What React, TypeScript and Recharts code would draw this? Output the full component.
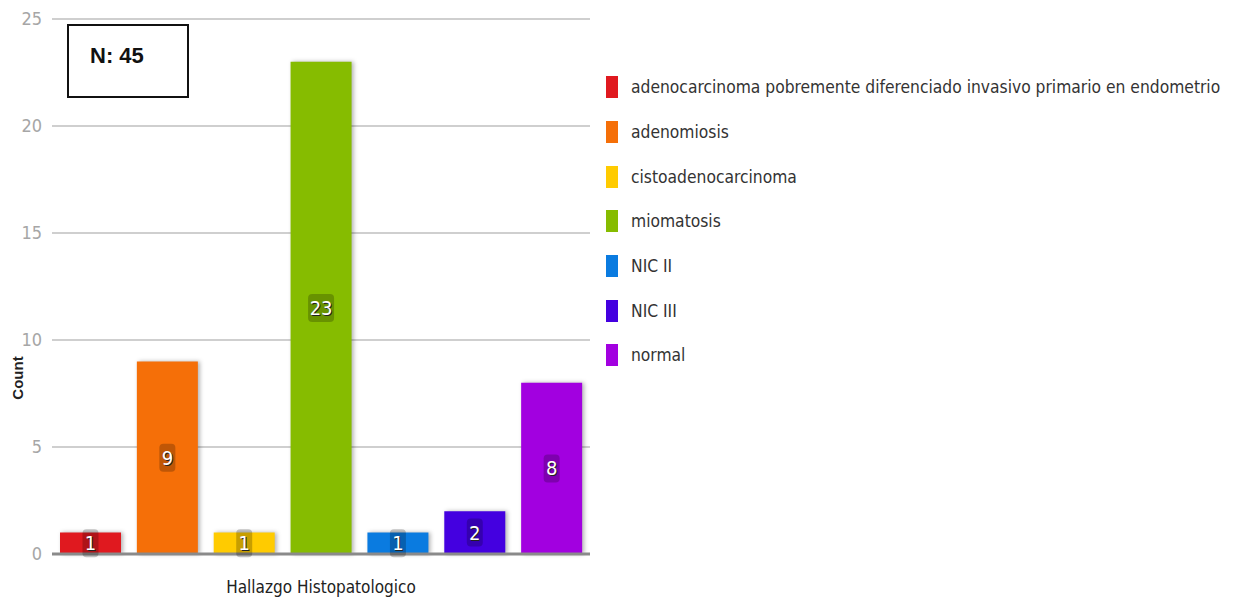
import { BarChart, Bar, XAxis, YAxis, CartesianGrid, Cell, LabelList } from 'recharts'

const CATEGORIES = [
  'adenocarcinoma pobremente diferenciado invasivo primario en endometrio',
  'adenomiosis',
  'cistoadenocarcinoma',
  'miomatosis',
  'NIC II',
  'NIC III',
  'normal',
]
const COUNTS = [1, 9, 1, 23, 1, 2, 8]
const COLORS = ['#e0191f', '#f56f08', '#ffcb00', '#86bc00', '#0a7be0', '#4400e0', '#a200e0']
const Y_TICKS = [0, 5, 10, 15, 20, 25]

const FONT = '"DejaVu Sans Condensed", "Liberation Sans Narrow", sans-serif'

const data = CATEGORIES.map((name, i) => ({ name, count: COUNTS[i], color: COLORS[i] }))

// value badge in the middle of each bar
const BarValue = ({ x, y, width, height, value }: any) => {
  const cx = x + width / 2
  const cy = y + height / 2
  const w = String(value).length * 10 + 6
  return (
    <g>
      <rect x={cx - w / 2} y={cy - 14} width={w} height={28} rx={4} fill="rgba(0,0,0,0.22)" />
      <text x={cx + 1} y={cy + 1} textAnchor="middle" dominantBaseline="central" fontFamily={FONT} fontSize={20} fill="#222">
        {value}
      </text>
      <text x={cx} y={cy} textAnchor="middle" dominantBaseline="central" fontFamily={FONT} fontSize={20} fill="#fff">
        {value}
      </text>
    </g>
  )
}

const LegendList = () => (
  <div
    style={{
      position: 'absolute',
      left: 606,
      top: 65,
      fontFamily: FONT,
      fontSize: 17.3,
      color: '#333',
    }}
  >
    {CATEGORIES.map((name, i) => (
      <div key={name} style={{ display: 'flex', alignItems: 'center', height: 44.7 }}>
        <span
          style={{ flexShrink: 0, display: 'inline-block', width: 12, height: 22, background: COLORS[i], marginRight: 13 }}
        />
        <span style={{ whiteSpace: 'nowrap' }}>{name}</span>
      </div>
    ))}
  </div>
)

export default function App() {
  return (
    <div style={{ position: 'absolute', left: 0, top: 0, width: 1238, height: 599, background: '#fff' }}>
      <BarChart
        width={1238}
        height={599}
        data={data}
        margin={{ top: 19, right: 648, bottom: 0, left: 0 }}
        barCategoryGap={8}
      >
        <CartesianGrid vertical={false} stroke="#cfcfcf" strokeWidth={2} />
        <XAxis
          dataKey="name"
          tick={false}
          height={45}
          axisLine={{ stroke: '#8a8a8a', strokeWidth: 3 }}
          tickLine={false}
          label={{
            value: 'Hallazgo Histopatologico',
            position: 'insideBottom',
            offset: 6,
            fill: '#222',
            fontFamily: FONT,
            fontSize: 17,
          }}
        />
        <YAxis
          width={52}
          domain={[0, 25]}
          ticks={Y_TICKS}
          axisLine={false}
          tickLine={false}
          tickMargin={4}
          tick={{ fill: '#a6a6a6', fontFamily: FONT, fontSize: 18 }}
          label={{
            content: () => (
              <text
                x={0}
                y={0}
                transform="translate(23 378) rotate(-90)"
                textAnchor="middle"
                fontFamily='"Liberation Sans", Arial, sans-serif'
                fontWeight="bold"
                fontSize={15}
                fill="#222"
              >
                Count
              </text>
            ),
          }}
        />
        <Bar dataKey="count" isAnimationActive={false}>
          {data.map((d) => (
            <Cell key={d.name} fill={d.color} style={{ filter: 'drop-shadow(2px 0px 2px rgba(0,0,0,0.3))' }} />
          ))}
          <LabelList dataKey="count" content={BarValue} />
        </Bar>
      </BarChart>
      <LegendList />
      <div
        style={{
          position: 'absolute',
          left: 67,
          top: 24,
          width: 118,
          height: 70,
          border: '2px solid #111',
          fontFamily: '"Liberation Sans", Arial, sans-serif',
          fontWeight: 'bold',
          fontSize: 22,
          color: '#111',
          boxSizing: 'content-box',
        }}
      >
        <div style={{ position: 'absolute', left: 21, top: 17 }}>N: 45</div>
      </div>
    </div>
  )
}
